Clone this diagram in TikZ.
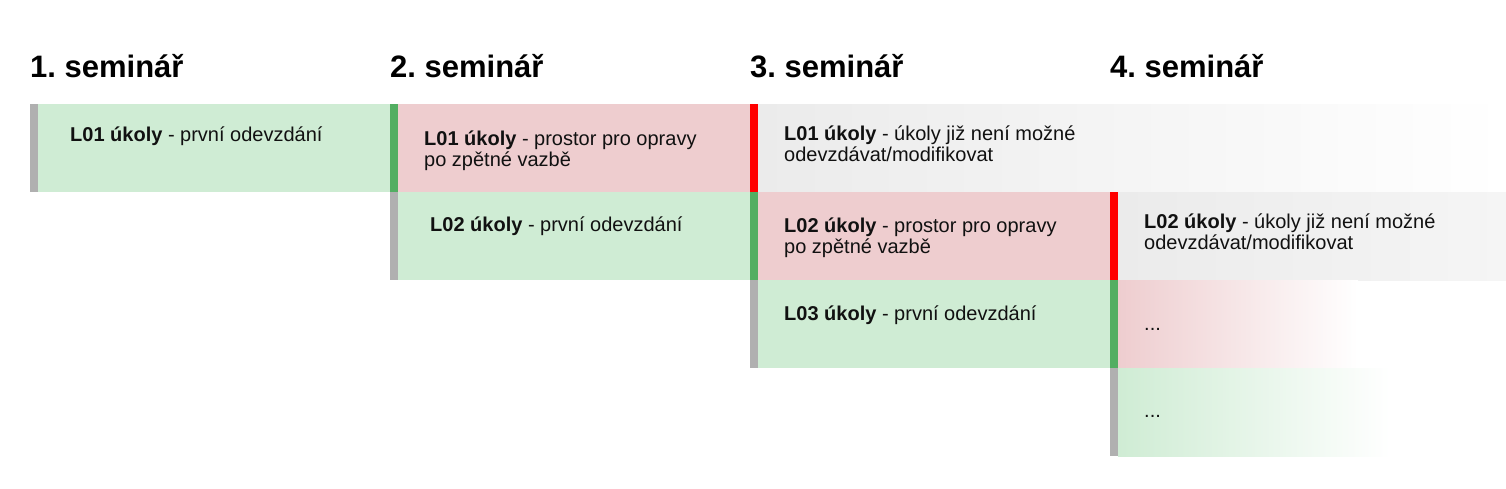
\documentclass[tikz,border=0pt]{standalone}
\usepackage{fontspec}
\setmainfont{Liberation Sans}
\frenchspacing
\definecolor{gfill}{HTML}{CFECD4}
\definecolor{pfill}{HTML}{EECDCF}
\definecolor{gbar}{HTML}{52AE62}
\definecolor{rbar}{HTML}{FF0000}
\definecolor{nbar}{HTML}{B0B0B0}
\definecolor{nfill}{HTML}{EBEBEB}
\definecolor{nfillend}{HTML}{F5F5F5}
\definecolor{txt}{HTML}{111111}
\begin{document}
\begin{tikzpicture}[x=1pt,y=-1pt,
  box/.style={anchor=north west, inner sep=0pt, outer sep=0pt, minimum height=88pt, draw=none},
  bar/.style={anchor=north west, inner sep=0pt, outer sep=0pt, minimum height=88pt, minimum width=8pt, draw=none},
  lbl/.style={anchor=base west, inner sep=0pt, align=left, font=\fontsize{20}{21}\selectfont, text=txt},
  head/.style={anchor=base west, inner sep=0pt, font=\fontsize{31}{33}\selectfont\bfseries, text=black}]
\useasboundingbox[fill=white] (0,0) rectangle (1506,488);

% headers
\node[head] (h1) at (30,77) {1. seminář};
\node[head] (h2) at (390,77) {2. seminář};
\node[head] (h3) at (750,77) {3. seminář};
\node[head] (h4) at (1110,77) {4. seminář};

% row 1
\node[box, minimum width=352pt, fill=gfill] (r1c1) at (38,104) {};
\node[bar, fill=nbar] (b1c1) at (30,104) {};
\node[box, minimum width=352pt, fill=pfill] (r1c2) at (398,104) {};
\node[bar, fill=gbar] (b1c2) at (390,104) {};
\node[box, minimum width=748pt, left color=nfill, right color=white] (r1c3) at (758,104) {};
\node[bar, fill=rbar] (b1c3) at (750,104) {};

% row 2
\node[box, minimum width=352pt, fill=gfill] (r2c2) at (398,192) {};
\node[bar, fill=nbar] (b2c2) at (390,192) {};
\node[box, minimum width=352pt, fill=pfill] (r2c3) at (758,192) {};
\node[bar, fill=gbar] (b2c3) at (750,192) {};
\node[box, minimum width=388pt, left color=nfill, right color=nfillend] (r2c4) at (1118,192) {};
\node[bar, fill=rbar] (b2c4) at (1110,192) {};

% row 3
\node[box, minimum width=240pt, left color=pfill, right color=white] (r3c4) at (1118,280) {};
\node[box, minimum width=352pt, fill=gfill] (r3c3) at (758,280) {};
\node[bar, fill=nbar] (b3c3) at (750,280) {};
\node[bar, fill=gbar] (b3c4) at (1110,280) {};

% row 4
\node[box, minimum width=272pt, left color=gfill, right color=white] (r4c4) at (1118,368) {};
\node[bar, fill=nbar] (b4c4) at (1110,368) {};

% labels (two-line labels are placed by the baseline of their last line)
\node[lbl] (t1c1) at (70,141.7) {\textbf{L01 úkoly} - první odevzdání};
\node[lbl] (t1c2) at (424,166) {\textbf{L01 úkoly} - prostor pro opravy\\po zpětné vazbě};
\node[lbl] (t2c2) at (430,231.7) {\textbf{L02 úkoly} - první odevzdání};
\node[lbl] (t1c3) at (784,161.7) {\textbf{L01 úkoly} - úkoly již není možné\\odevzdávat/modifikovat};
\node[lbl] (t2c3) at (784,253.7) {\textbf{L02 úkoly} - prostor pro opravy\\po zpětné vazbě};
\node[lbl] (t3c3) at (784,320) {\textbf{L03 úkoly} - první odevzdání};
\node[lbl] (t2c4) at (1144,249) {\textbf{L02 úkoly} - úkoly již není možné\\odevzdávat/modifikovat};
\node[lbl] (t3c4) at (1144,330) {...};
\node[lbl] (t4c4) at (1144,417.7) {...};
\end{tikzpicture}
\end{document}
